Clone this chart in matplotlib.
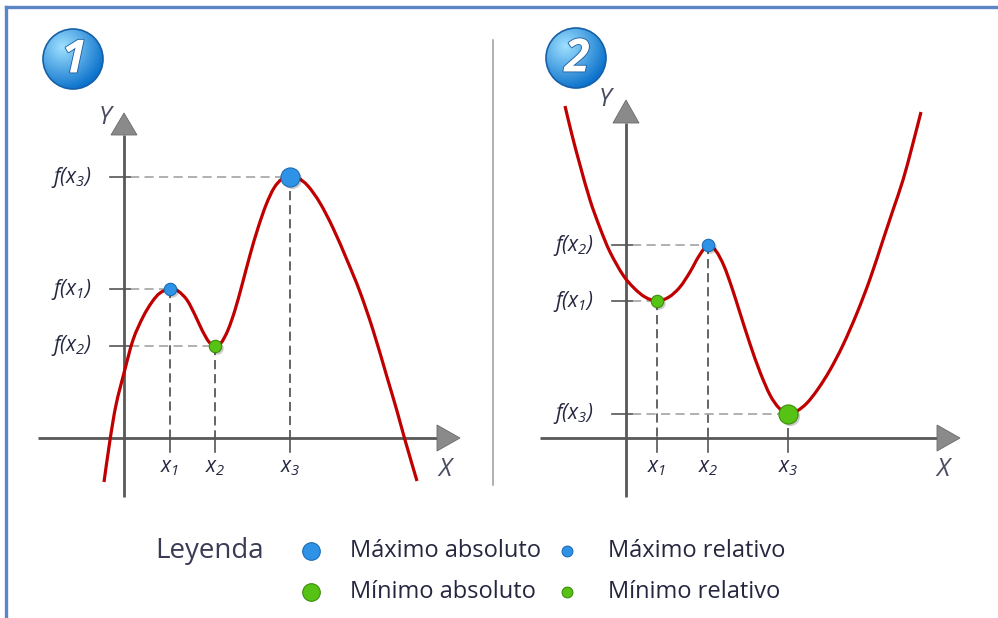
import numpy as np
import matplotlib
matplotlib.use("Agg")
import matplotlib.pyplot as plt
from matplotlib.patches import Circle, PathPatch
from matplotlib.path import Path
import matplotlib.patheffects as pe

plt.rcParams['mathtext.fontset'] = 'custom'
plt.rcParams['mathtext.it'] = 'Open Sans:italic'
plt.rcParams['mathtext.rm'] = 'Open Sans:italic'
plt.rcParams['font.family'] = ['Open Sans', 'DejaVu Sans']

# ---------------- data (units: arbitrary, origin at axes crossing) ----------------
p1_curve_x = [-2.0, -1.4, -0.8, 0.0, 0.9, 1.9, 2.8, 3.6, 4.6, 5.4, 6.3, 7.1, 7.8, 8.5, 9.1,
              9.7, 10.4, 11.1, 11.8, 12.6, 13.4, 14.2, 15.0, 15.8, 16.6, 17.4, 18.4, 19.6,
              20.9, 22.3, 23.6, 24.9, 26.3, 27.3, 28.1, 29.3]
p1_curve_y = [-4.4, -0.2, 3.3, 6.5, 9.8, 12.1, 13.6, 14.5, 14.9, 14.7, 13.8, 12.3, 10.8, 9.6, 9.2,
              9.5, 10.8, 12.8, 15.3, 18.3, 21.0, 23.3, 25.0, 25.9, 26.1, 26.0, 25.2, 23.5,
              21.0, 17.8, 14.6, 10.8, 6.1, 2.7, -0.2, -4.3]
p1_crit_x = [4.6, 9.1, 16.6]
p1_crit_y = [14.9, 9.2, 26.1]
p1_crit_kind = ["max_rel", "min_rel", "max_abs"]

p2_curve_x = [-6.1, -5.4, -4.6, -3.6, -2.6, -1.6, -0.3, 0.8, 1.9, 3.1, 4.3, 5.4, 6.4, 7.3, 8.2,
              9.0, 9.8, 10.6, 11.4, 12.4, 13.4, 14.4, 15.3, 16.2, 17.1, 18.1, 19.2, 20.4,
              21.7, 23.1, 24.4, 25.7, 26.7, 27.7, 28.6, 29.5]
p2_curve_y = [33.2, 30.3, 27.3, 23.8, 21.0, 18.6, 16.3, 15.0, 14.1, 13.7, 14.1, 15.1, 16.6, 18.2, 19.3,
              18.7, 17.2, 15.0, 12.5, 9.4, 6.6, 4.3, 3.0, 2.4, 2.7, 3.5, 4.9, 6.8,
              9.3, 12.5, 15.9, 19.8, 22.8, 25.8, 29.1, 32.6]
p2_crit_x = [3.1, 8.2, 16.2]
p2_crit_y = [13.7, 19.3, 2.4]
p2_crit_kind = ["min_rel", "max_rel", "min_abs"]

x_tick_labels = [r"$x_1$", r"$x_2$", r"$x_3$"]
y_tick_labels = [r"$f(x_1)$", r"$f(x_2)$", r"$f(x_3)$"]
panel_numbers = ["1", "2"]

legend_title = "Leyenda"
legend_kinds = ["max_abs", "max_rel", "min_abs", "min_rel"]
legend_labels = ["Máximo absoluto", "Máximo relativo", "Mínimo absoluto", "Mínimo relativo"]

# ---------------- styles ----------------
BLUE = "#2e93e6"
BLUE_EDGE = "#1b6cb5"
GREEN = "#56c214"
GREEN_EDGE = "#3b8e0c"
RED = "#c00000"
AXIS = "#585858"
TEXT = "#25273f"
kind_style = {
    "max_abs": dict(c=BLUE, ec=BLUE_EDGE, s=190),
    "max_rel": dict(c=BLUE, ec=BLUE_EDGE, s=80),
    "min_abs": dict(c=GREEN, ec=GREEN_EDGE, s=190),
    "min_rel": dict(c=GREEN, ec=GREEN_EDGE, s=80),
}

W, H = 998, 618
fig = plt.figure(figsize=(W / 100, H / 100), dpi=100)

ov = fig.add_axes([0, 0, 1, 1])
ov.set_xlim(0, W)
ov.set_ylim(H, 0)
ov.axis("off")

ov.plot([6.5, 6.5], [H, 6.5], color="#5a86c6", lw=2.4, solid_capstyle="projecting")
ov.plot([6.5, W], [6.5, 6.5], color="#5a86c6", lw=2.4, solid_capstyle="projecting")
ov.plot([493, 493], [40, 485], color="#9a9a9a", lw=1.1)


def badge(cx, cy, r, txt):
    n = 200
    yy, xx = np.mgrid[-1:1:n * 1j, -1:1:n * 1j]
    d = np.sqrt((xx + 0.35) ** 2 + (yy + 0.4) ** 2) / 1.45
    d = np.clip(d, 0, 1)
    c0 = np.array([0.62, 0.88, 1.0])
    c1 = np.array([0.05, 0.45, 0.80])
    img = c0[None, None, :] * (1 - d[..., None]) + c1[None, None, :] * d[..., None]
    im = ov.imshow(img, extent=(cx - r, cx + r, cy + r, cy - r), origin="upper",
                   zorder=3, aspect="auto", interpolation="bilinear")
    circ = Circle((cx, cy), r, transform=ov.transData, facecolor="none")
    ov.add_patch(circ)
    im.set_clip_path(circ)
    ov.add_patch(Circle((cx, cy), r, facecolor="none", edgecolor="#1660a8", lw=1.2, zorder=4))
    ov.text(cx + 1, cy + 1, txt, color="white", fontsize=33, fontweight="bold", style="italic",
            ha="center", va="center", zorder=5,
            path_effects=[pe.withStroke(linewidth=1.2, foreground="#1a5a9a")])


badge(73, 59, 30, panel_numbers[0])
badge(576, 58, 30, panel_numbers[1])
ov.set_xlim(0, W)
ov.set_ylim(H, 0)


def smooth_curve(ax, xs, ys, **kw):
    P = np.column_stack([xs, ys]).astype(float)
    Q = np.vstack([P[:1], P, P[-1:]])
    verts = [tuple(P[0])]
    codes = [Path.MOVETO]
    for i in range(len(P) - 1):
        p0, p1, p2, p3 = Q[i], Q[i + 1], Q[i + 2], Q[i + 3]
        c1 = p1 + (p2 - p0) / 6.0
        c2 = p2 - (p3 - p1) / 6.0
        verts += [tuple(c1), tuple(c2), tuple(p2)]
        codes += [Path.CURVE4] * 3
    ax.add_patch(PathPatch(Path(verts, codes), facecolor="none", **kw))


def panel(rect, xlim, ylim, cx, cy, x_axis, y_axis, xlab_pos, ylab_pos):
    ax = fig.add_axes(rect)
    ax.set_xlim(*xlim)
    ax.set_ylim(*ylim)
    ax.axis("off")
    ax.patch.set_alpha(0)
    ax.plot([x_axis[0], x_axis[1]], [0, 0], color=AXIS, lw=2.0, zorder=2, solid_capstyle="butt")
    ax.plot([0, 0], [y_axis[0], y_axis[1]], color=AXIS, lw=2.0, zorder=2, solid_capstyle="butt")
    ax.fill([x_axis[1], x_axis[2], x_axis[1]], [1.3, 0, -1.3], color="#8a8a8a", ec="#6a6a6a", lw=0.6, zorder=2)
    ax.fill([-1.3, 0, 1.3], [y_axis[1], y_axis[2], y_axis[1]], color="#8a8a8a", ec="#6a6a6a", lw=0.6, zorder=2)
    ax.text(*xlab_pos, "X", fontsize=18, style="italic", color="#4a4c60", ha="center", va="center")
    ax.text(*ylab_pos, "Y", fontsize=18, style="italic", color="#4a4c60", ha="center", va="center")
    for i, (x, y) in enumerate(zip(cx, cy)):
        ax.plot([0.6, x], [y, y], color="#a3a3a3", lw=1.2, ls=(0, (5.5, 3.2)), zorder=1)
        ax.plot([x, x], [y, 0], color="#3a3a3a", lw=1.1, ls=(0, (6.0, 3.2)), zorder=1)
        ax.plot([-1.4, 0.6], [y, y], color="#555555", lw=1.2, zorder=2)
        ax.plot([x, x], [0, -1.4], color="#555555", lw=1.2, zorder=2)
        ax.text(x, -3.0, x_tick_labels[i], fontsize=15, color=TEXT, ha="center", va="center")
        ax.text(-3.2, y, y_tick_labels[i], fontsize=15, color=TEXT, ha="right", va="center")
    return ax


def draw_points(ax, xs, ys, kinds):
    for x, y, k in zip(xs, ys, kinds):
        st = kind_style[k]
        ax.scatter([x + 0.2], [y - 0.2], s=st["s"], color="#000000", alpha=0.2, lw=0, zorder=4)
        ax.scatter([x], [y], s=st["s"], color=st["c"], edgecolors=st["ec"], linewidths=0.8, zorder=5)


ax1 = panel([30 / W, 118 / H, 440 / W, 410 / H], (-9.4, 34.6), (-6.2, 34.8),
            p1_crit_x, p1_crit_y,
            (-8.6, 31.3, 33.6), (-5.9, 30.3, 32.5), (32.1, -3.2), (-1.9, 32.0))
smooth_curve(ax1, p1_curve_x, p1_curve_y, edgecolor=RED, lw=2.3, zorder=3, capstyle="butt", clip_on=False)
draw_points(ax1, p1_crit_x, p1_crit_y, p1_crit_kind)

ax2 = panel([530 / W, 118 / H, 445 / W, 420 / H], (-9.6, 34.9), (-6.2, 35.8),
            p2_crit_x, p2_crit_y,
            (-8.6, 31.1, 33.4), (-5.9, 31.5, 33.8), (31.7, -3.2), (-2.1, 33.8))
smooth_curve(ax2, p2_curve_x, p2_curve_y, edgecolor=RED, lw=2.3, zorder=3, capstyle="butt", clip_on=False)
draw_points(ax2, p2_crit_x, p2_crit_y, p2_crit_kind)

# legend
ov.text(155, 551, legend_title, fontsize=20, color="#3a3c55", ha="left", va="center")
leg_dot_x = [311, 567, 311, 567]
leg_txt_x = [350, 608, 350, 608]
leg_y = [551, 551, 592, 592]
leg_size = {"max_abs": 160, "max_rel": 60, "min_abs": 160, "min_rel": 60}
for k, lab, dx, tx, y in zip(legend_kinds, legend_labels, leg_dot_x, leg_txt_x, leg_y):
    st = kind_style[k]
    ov.scatter([dx], [y], s=leg_size[k], color=st["c"], edgecolors=st["ec"], linewidths=0.8, zorder=5)
    ov.text(tx, y, lab, fontsize=17, color=TEXT, ha="left", va="center")
ov.set_xlim(0, W)
ov.set_ylim(H, 0)

fig.savefig("out.png", dpi=100)
